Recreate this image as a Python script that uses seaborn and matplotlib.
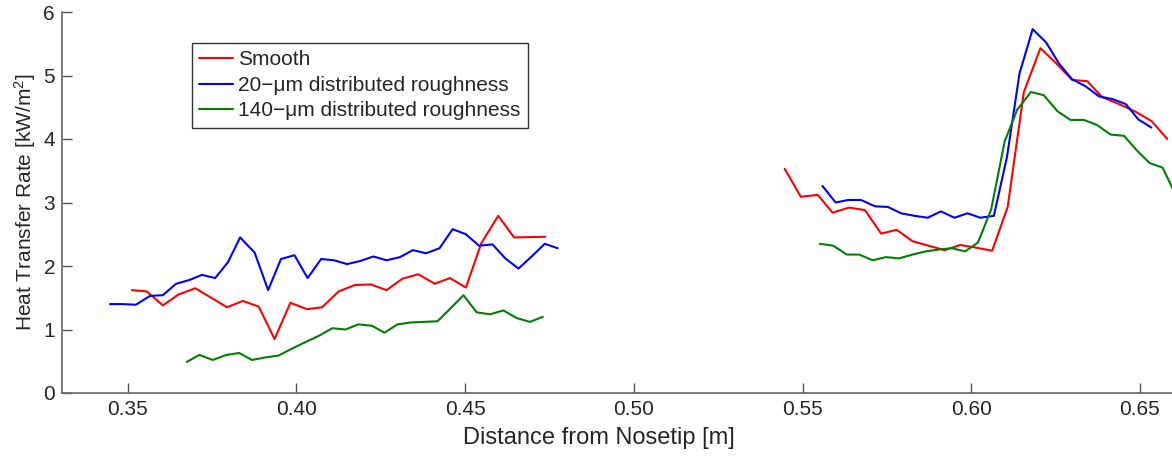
import numpy as np
import pandas as pd
import matplotlib
matplotlib.use("Agg")
import matplotlib.pyplot as plt
import seaborn as sns

# ---- data ----
smooth_x_a = [0.3512, 0.3556, 0.3604, 0.3650, 0.3700, 0.3744, 0.3794, 0.3841, 0.3888, 0.3935,
              0.3982, 0.4031, 0.4076, 0.4125, 0.4173, 0.4220, 0.4267, 0.4314, 0.4361, 0.4410,
              0.4455, 0.4502, 0.4548, 0.4598, 0.4645, 0.4691, 0.4737]
smooth_y_a = [1.62, 1.60, 1.38, 1.55, 1.65, 1.51, 1.35, 1.45, 1.36, 0.85,
              1.42, 1.32, 1.35, 1.60, 1.70, 1.71, 1.62, 1.80, 1.87, 1.72,
              1.81, 1.66, 2.36, 2.79, 2.45, 2.455, 2.46]
smooth_x_b = [0.5447, 0.5495, 0.5545, 0.5589, 0.5638, 0.5685, 0.5733, 0.5779, 0.5826, 0.5873,
              0.5921, 0.5967, 0.6014, 0.6062, 0.6108, 0.6156, 0.6205, 0.6252, 0.6299, 0.6344,
              0.6388, 0.6438, 0.6487, 0.6535, 0.6581]
smooth_y_b = [3.53, 3.09, 3.12, 2.84, 2.92, 2.88, 2.51, 2.57, 2.39, 2.32,
              2.25, 2.33, 2.29, 2.24, 2.93, 4.74, 5.43, 5.19, 4.93, 4.91,
              4.66, 4.55, 4.43, 4.28, 4.00]

r20_x_a = [0.3447, 0.3485, 0.3524, 0.3566, 0.3604, 0.3643, 0.3683, 0.3720, 0.3759, 0.3797,
           0.3833, 0.3876, 0.3916, 0.3954, 0.3994, 0.4033, 0.4073, 0.4111, 0.4150, 0.4190,
           0.4228, 0.4267, 0.4307, 0.4345, 0.4384, 0.4424, 0.4463, 0.4502, 0.4541, 0.4581,
           0.4619, 0.4658, 0.4697, 0.4736, 0.4774]
r20_y_a = [1.40, 1.40, 1.39, 1.53, 1.54, 1.72, 1.78, 1.86, 1.81, 2.06,
           2.45, 2.21, 1.62, 2.11, 2.17, 1.81, 2.11, 2.09, 2.03, 2.08,
           2.15, 2.09, 2.14, 2.25, 2.20, 2.28, 2.58, 2.50, 2.32, 2.34,
           2.12, 1.96, 2.15, 2.35, 2.28]
r20_x_b = [0.5559, 0.5598, 0.5636, 0.5673, 0.5715, 0.5753, 0.5792, 0.5832, 0.5871, 0.5910,
           0.5950, 0.5989, 0.6027, 0.6067, 0.6106, 0.6143, 0.6182, 0.6222, 0.6260, 0.6299,
           0.6339, 0.6379, 0.6418, 0.6458, 0.6495, 0.6534]
r20_y_b = [3.26, 3.00, 3.04, 3.04, 2.94, 2.93, 2.83, 2.79, 2.76, 2.86,
           2.76, 2.83, 2.76, 2.79, 3.72, 5.03, 5.73, 5.52, 5.19, 4.94,
           4.83, 4.67, 4.63, 4.55, 4.31, 4.18]

r140_x_a = [0.3675, 0.3712, 0.3752, 0.3792, 0.3830, 0.3868, 0.3908, 0.3947, 0.3987, 0.4026,
            0.4066, 0.4106, 0.4145, 0.4183, 0.4223, 0.4261, 0.4299, 0.4338, 0.4378, 0.4418,
            0.4456, 0.4495, 0.4534, 0.4574, 0.4613, 0.4653, 0.4692, 0.4730]
r140_y_a = [0.49, 0.60, 0.52, 0.60, 0.63, 0.52, 0.56, 0.59, 0.70, 0.80,
            0.90, 1.02, 1.00, 1.08, 1.06, 0.95, 1.08, 1.11, 1.12, 1.13,
            1.33, 1.54, 1.27, 1.24, 1.30, 1.18, 1.12, 1.20]
r140_x_b = [0.5551, 0.5591, 0.5631, 0.5668, 0.5708, 0.5747, 0.5786, 0.5826, 0.5865, 0.5905,
            0.5943, 0.5982, 0.6020, 0.6059, 0.6099, 0.6136, 0.6177, 0.6215, 0.6255, 0.6294,
            0.6334, 0.6373, 0.6413, 0.6453, 0.6489, 0.6529, 0.6567, 0.6606]
r140_y_b = [2.35, 2.32, 2.18, 2.18, 2.09, 2.14, 2.12, 2.18, 2.23, 2.26,
            2.28, 2.23, 2.37, 2.89, 3.96, 4.46, 4.74, 4.69, 4.44, 4.30,
            4.30, 4.22, 4.07, 4.05, 3.83, 3.62, 3.55, 3.12]

series_names = ["Smooth", "20\u2212\u03bcm distributed roughness", "140\u2212\u03bcm distributed roughness"]
series_colors = ["#ff0000", "#0000ff", "#008000"]
x_ticks = [0.35, 0.40, 0.45, 0.50, 0.55, 0.60, 0.65]
y_ticks = [0, 1, 2, 3, 4, 5, 6]

rows = []
for name, segs in zip(series_names,
                      [[(smooth_x_a, smooth_y_a), (smooth_x_b, smooth_y_b)],
                       [(r20_x_a, r20_y_a), (r20_x_b, r20_y_b)],
                       [(r140_x_a, r140_y_a), (r140_x_b, r140_y_b)]]):
    for si, (xs, ys) in enumerate(segs):
        for xv, yv in zip(xs, ys):
            rows.append({"x": xv, "y": yv, "series": name, "seg": si})
df = pd.DataFrame(rows)

sns.set_style("white")
plt.rcParams["font.family"] = ["Liberation Sans", "DejaVu Sans"]
plt.rcParams["mathtext.default"] = "regular"

fig = plt.figure(figsize=(11.72, 4.58), dpi=100)
ax = fig.add_axes([62 / 1172, 65 / 458, 1 - 62 / 1172 + 0.002, 381 / 458])

sns.lineplot(data=df, x="x", y="y", hue="series", units="seg", estimator=None,
             sort=False, palette=dict(zip(series_names, series_colors)),
             hue_order=series_names, linewidth=1.5, ax=ax, legend=True)

ax.set_xlim(0.3305, 0.6602)
ax.set_ylim(0, 6)
ax.set_xticks(x_ticks)
ax.set_xticklabels([f"{t:.2f}" for t in x_ticks])
ax.set_yticks(y_ticks)
ax.set_yticklabels([str(t) for t in y_ticks])
ax.set_xlabel("Distance from Nosetip [m]", fontsize=17)
ax.xaxis.set_label_coords(0.4824, -0.118)
ax.xaxis.label.set_va("center")
ax.set_ylabel("Heat Transfer Rate [kW/m$^2$]", fontsize=15, labelpad=4)
ax.tick_params(axis="both", direction="in", length=7, width=1, color="#555555",
               labelsize=15, pad=5, left=True, bottom=True)
for s in ["top", "right"]:
    ax.spines[s].set_visible(False)
for s in ["left", "bottom"]:
    ax.spines[s].set_color("#666666")
    ax.spines[s].set_linewidth(1.2)

handles, labels = ax.get_legend_handles_labels()
leg = ax.legend(handles, labels, loc="upper left", bbox_to_anchor=(0.117, 0.919),
                borderaxespad=0, frameon=True, fancybox=False, fontsize=15,
                handlelength=1.6, handletextpad=0.25, labelspacing=0.32,
                borderpad=0.35, edgecolor="black")
leg.get_frame().set_linewidth(1.0)

fig.savefig("out.png", dpi=100)
